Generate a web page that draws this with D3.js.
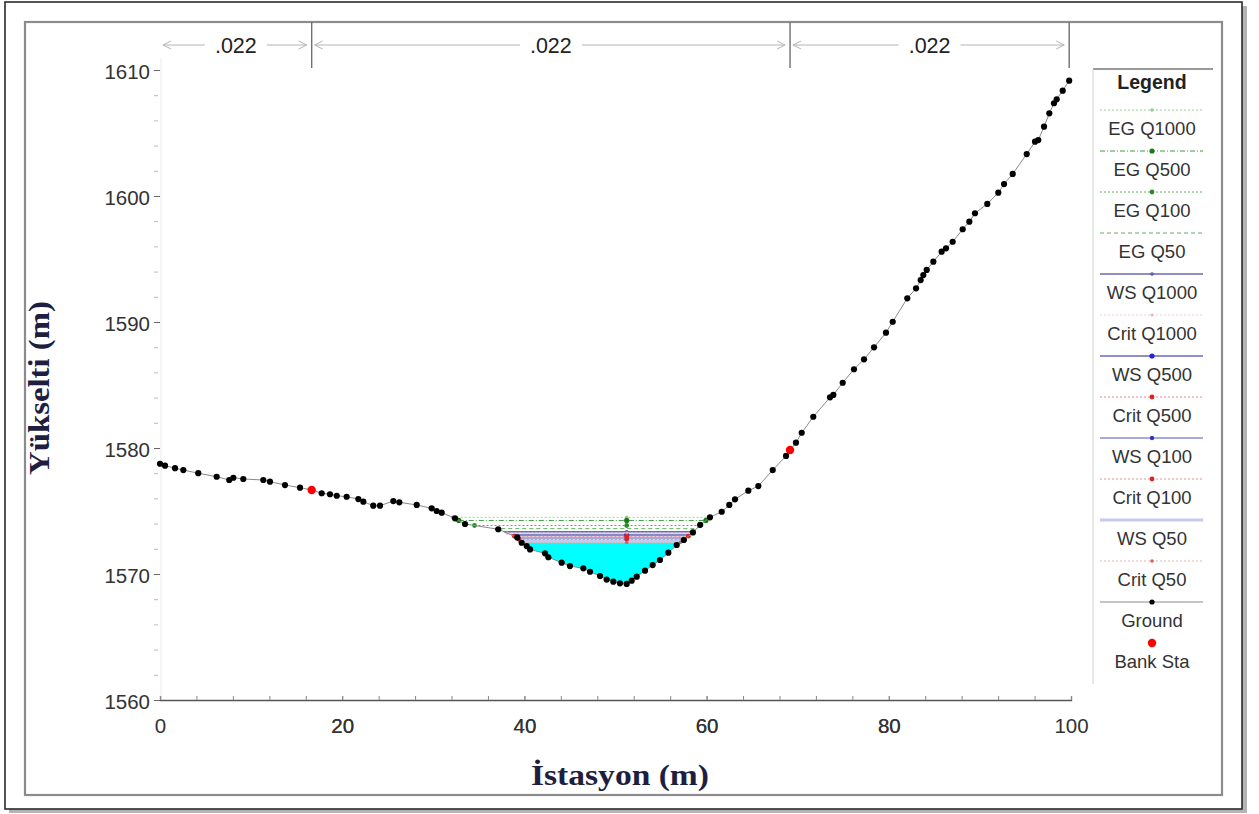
<!DOCTYPE html>
<html><head><meta charset="utf-8">
<script src="https://cdn.jsdelivr.net/npm/d3@7"></script>
<style>body{margin:0;background:#fff}svg{display:block}</style>
</head><body>
<svg id="chart" width="1259" height="814"></svg>
<script>
// Cross-section ground survey: station (m) and elevation (m)
const stations = [0.0, 0.55, 1.65, 2.56, 4.2, 6.22, 7.6, 8.05, 9.14, 11.34, 12.07, 13.72, 15.37, 16.65,
  17.75, 18.66, 19.4, 20.49, 21.77, 22.32, 23.41, 24.15, 25.61, 26.27, 28.18, 29.82, 30.37, 30.92,
  32.38, 33.48, 37.13, 39.22, 39.7, 40.25, 40.62, 42.26, 42.63, 44.09, 45.0, 46.47, 47.2, 48.3,
  49.03, 49.76, 50.49, 51.23, 51.78, 52.33, 53.24, 54.08, 54.88, 55.8, 56.72, 57.5, 58.5, 59.3,
  60.37, 61.66, 62.49, 63.12, 64.58, 65.68, 67.26, 68.72, 69.16, 69.81, 70.44, 71.71, 73.55, 73.91,
  74.94, 76.18, 77.28, 78.38, 79.69, 80.43, 82.03, 82.99, 83.5, 83.79, 84.16, 84.89, 85.8, 86.28,
  87.01, 88.11, 88.84, 89.46, 90.81, 92.02, 92.65, 93.6, 95.14, 96.05, 96.41, 97.04, 97.62, 98.13,
  98.43, 99.09, 99.8];
const elevations = [1578.75, 1578.6, 1578.4, 1578.25, 1578.0, 1577.72, 1577.46, 1577.64, 1577.54, 1577.46, 1577.33, 1577.06, 1576.85, 1576.67,
  1576.41, 1576.33, 1576.21, 1576.13, 1575.95, 1575.74, 1575.42, 1575.42, 1575.79, 1575.69, 1575.48, 1575.21, 1575.0, 1574.87,
  1574.42, 1573.97, 1573.55, 1572.9, 1572.48, 1572.22, 1571.95, 1571.64, 1571.33, 1570.9, 1570.63, 1570.45, 1570.18, 1569.84,
  1569.56, 1569.39, 1569.26, 1569.21, 1569.47, 1569.79, 1570.26, 1570.71, 1571.11, 1571.69, 1572.3, 1572.7, 1573.3, 1573.9,
  1574.5, 1574.94, 1575.48, 1575.93, 1576.61, 1576.98, 1578.25, 1579.37, 1579.84, 1580.42, 1581.21, 1582.48, 1584.02, 1584.21,
  1585.18, 1586.25, 1587.04, 1587.99, 1589.15, 1590.02, 1591.88, 1592.67, 1593.33, 1593.73, 1594.13, 1594.79, 1595.58, 1595.85,
  1596.37, 1597.36, 1597.96, 1598.63, 1599.37, 1600.26, 1600.95, 1601.75, 1603.33, 1604.31, 1604.44, 1605.5, 1606.56, 1607.36,
  1607.67, 1608.36, 1609.15];

// Bank stations (m)
const bankStations = [16.65, 69.16];

// Flow profiles and computed levels (m)
const profiles = ["Q1000", "Q500", "Q100", "Q50"];
const egLevels = [1574.5, 1574.25, 1573.85, 1573.6];
const wsLevels = [1573.35, 1573.1, 1572.85, 1572.6];
const critLevels = [1573.25, 1573.0, 1572.75, 1572.5];

// Manning's n zones
const nBreaks = [0, 16.65, 69.16, 99.8];
const nValues = [".022", ".022", ".022"];

// Axis ticks
const xTickLabels = [0, 20, 40, 60, 80, 100];
const yTickLabels = [1560, 1570, 1580, 1590, 1600, 1610];

// Legend order
const legendNames = ["EG Q1000", "EG Q500", "EG Q100", "EG Q50", "WS Q1000", "Crit Q1000",
  "WS Q500", "Crit Q500", "WS Q100", "Crit Q100", "WS Q50", "Crit Q50", "Ground", "Bank Sta"];

const styles = {
  "EG Q1000":  {stroke: "#98d098", dash: "2,2",     width: 1,   mark: "#8fcf8f", r: 1.8},
  "EG Q500":   {stroke: "#3c9c3c", dash: "5,2,1,2", width: 1,   mark: "#1a7a1a", r: 2.6},
  "EG Q100":   {stroke: "#5aae5a", dash: "2,2",     width: 1,   mark: "#2b8b2b", r: 2.4},
  "EG Q50":    {stroke: "#60b060", dash: "4,3",     width: 1,   mark: null,      r: 0},
  "WS Q1000":  {stroke: "#6a6aae", dash: null,      width: 1.6, mark: "#5a5aa6", r: 1.8},
  "Crit Q1000":{stroke: "#f2cccc", dash: "2,2",     width: 1,   mark: "#efb4b4", r: 1.6},
  "WS Q500":   {stroke: "#6868bc", dash: null,      width: 1.6, mark: "#2424d0", r: 2.6},
  "Crit Q500": {stroke: "#e48888", dash: "2,2",     width: 1,   mark: "#e42020", r: 2.4},
  "WS Q100":   {stroke: "#a4aadc", dash: null,      width: 2,   mark: "#3434c4", r: 2.2},
  "Crit Q100": {stroke: "#e49494", dash: "2,2",     width: 1,   mark: "#dd2222", r: 2.4},
  "WS Q50":    {stroke: "#c6cae8", dash: null,      width: 3,   mark: null,      r: 0},
  "Crit Q50":  {stroke: "#ebb4b4", dash: "2,2",     width: 1,   mark: "#d46464", r: 1.8},
  "Ground":    {stroke: "#8a8a8a", dash: null,      width: 1,   mark: "#000",    r: 3.1},
  "Bank Sta":  {stroke: null,      dash: null,      width: 0,   mark: "#ff0000", r: 4.2}
};

const svg = d3.select("#chart");
const x = d3.scaleLinear().domain([0, 100]).range([160, 1071]);
const y = d3.scaleLinear().domain([1560, 1610]).range([700, 70]);

// ---- page frames ----
svg.append("rect").attr("x", 1242).attr("y", 6).attr("width", 5).attr("height", 806).attr("fill", "#b4b4b4");
svg.append("rect").attr("x", 9).attr("y", 809).attr("width", 1238).attr("height", 4).attr("fill", "#b4b4b4");
svg.append("rect").attr("x", 5).attr("y", 2).attr("width", 1237).attr("height", 807)
  .attr("fill", "#fff").attr("stroke", "#2a2a2a").attr("stroke-width", 1.6);
svg.append("rect").attr("x", 25).attr("y", 22).attr("width", 1197).attr("height", 773)
  .attr("fill", "none").attr("stroke", "#8c8c8c").attr("stroke-width", 2.2);

// ---- ground geometry ----
const ground = stations.map((s, i) => ({s, z: elevations[i]}));
const iMin = d3.minIndex(ground, d => d.z);
const thalweg = ground[iMin].s;
const interpZ = s => {
  const k = d3.bisector(d => d.s).left(ground, s);
  if (k <= 0) return ground[0].z;
  if (k >= ground.length) return ground[ground.length - 1].z;
  const a = ground[k - 1], b = ground[k];
  return a.z + (s - a.s) * (b.z - a.z) / (b.s - a.s);
};
function waterExtent(level) {
  let i = iMin;
  while (i > 0 && ground[i - 1].z < level) i--;
  const a = ground[i - 1], b = ground[i];
  const sl = a.s + (level - a.z) * (b.s - a.s) / (b.z - a.z);
  let j = iMin;
  while (j < ground.length - 1 && ground[j + 1].z < level) j++;
  const c = ground[j], d = ground[j + 1];
  const sr = c.s + (level - c.z) * (d.s - c.s) / (d.z - c.z);
  return {sl, sr, i, j};
}
const line = d3.line().x(d => x(d[0])).y(d => y(d[1]));
function waterPolygon(level) {
  const e = waterExtent(level);
  const pts = [[e.sl, level]];
  for (let k = e.i; k <= e.j; k++) pts.push([ground[k].s, ground[k].z]);
  pts.push([e.sr, level]);
  return line(pts) + "Z";
}

// ---- axes ----
const yAxisG = svg.append("g").attr("transform", `translate(${x(0)},0)`);
yAxisG.append("line").attr("x1", 1).attr("x2", 1).attr("y1", 58).attr("y2", y(1560))
  .attr("stroke", "#ececec").attr("stroke-width", 1);
yAxisG.call(d3.axisLeft(y).tickValues(d3.range(1560, 1611, 2)).tickSize(5)
  .tickFormat(v => yTickLabels.includes(v) ? v : ""))
  .call(g => g.select(".domain").remove());
yAxisG.selectAll(".tick line").attr("stroke", v => yTickLabels.includes(v) ? "#666" : "#bbb")
  .attr("x1", -6).attr("x2", v => yTickLabels.includes(v) ? 0 : -2);
yAxisG.selectAll(".tick text").attr("x", -10).attr("dy", "0.4em")
  .attr("font-family", "Liberation Sans, Arial, sans-serif").attr("font-size", 20.5).attr("fill", "#333");

const xAxisG = svg.append("g").attr("transform", `translate(0,${y(1560)})`);
xAxisG.call(d3.axisBottom(x).tickValues(d3.range(0, 101, 4).concat([20, 40, 60, 80])).tickSize(-4)
  .tickFormat(v => xTickLabels.includes(v) ? v : ""));
xAxisG.select(".domain").attr("stroke", "#555").attr("stroke-width", 1.3);
xAxisG.selectAll(".tick line").attr("stroke", "#888");
xAxisG.selectAll(".tick text").attr("y", 18).attr("dy", "0.71em")
  .attr("font-family", "Liberation Sans, Arial, sans-serif").attr("font-size", 20.5).attr("fill", "#333");

// axis titles
svg.append("text").attr("x", 620).attr("y", 785).attr("text-anchor", "middle")
  .attr("font-family", "Liberation Serif, Times New Roman, serif").attr("font-weight", "bold")
  .attr("font-size", 29).attr("textLength", 178).attr("lengthAdjust", "spacingAndGlyphs")
  .attr("fill", "#1e1e40").text("İstasyon (m)");
svg.append("text").attr("transform", `translate(${49},${388}) rotate(-90)`).attr("text-anchor", "middle")
  .attr("font-family", "Liberation Serif, Times New Roman, serif").attr("font-weight", "bold")
  .attr("font-size", 29).attr("textLength", 174).attr("lengthAdjust", "spacingAndGlyphs")
  .attr("fill", "#1e1e40").text("Yükselti (m)");

// ---- Manning's n zones ----
const nG = svg.append("g");
nBreaks.slice(1).forEach(b => {
  nG.append("line").attr("x1", x(b)).attr("x2", x(b)).attr("y1", 22).attr("y2", 68)
    .attr("stroke", "#707070").attr("stroke-width", 1.4);
});
nValues.forEach((v, k) => {
  const x0 = x(nBreaks[k]) + 3, x1 = x(nBreaks[k + 1]) - 5, xm = (x(nBreaks[k]) + x(nBreaks[k + 1])) / 2;
  const yy = 45, half = 31;
  nG.append("line").attr("x1", x0).attr("x2", xm - half).attr("y1", yy).attr("y2", yy).attr("stroke", "#b4b4b4");
  nG.append("line").attr("x1", xm + half).attr("x2", x1).attr("y1", yy).attr("y2", yy).attr("stroke", "#b4b4b4");
  nG.append("path").attr("d", `M${x0 + 8},${yy - 4}L${x0},${yy}L${x0 + 8},${yy + 4}`)
    .attr("fill", "none").attr("stroke", "#b4b4b4");
  nG.append("path").attr("d", `M${x1 - 8},${yy - 4}L${x1},${yy}L${x1 - 8},${yy + 4}`)
    .attr("fill", "none").attr("stroke", "#b4b4b4");
  nG.append("text").attr("x", xm).attr("y", yy).attr("dy", "0.36em").attr("text-anchor", "middle")
    .attr("font-family", "Liberation Sans, Arial, sans-serif").attr("font-size", 21.5).attr("fill", "#222").text(v);
});

// ---- water ----
const plot = svg.append("g");
// band between the highest and lowest water surface
plot.append("path").attr("d", waterPolygon(wsLevels[0])).attr("fill", "#dcd9f0");
plot.append("path").attr("d", waterPolygon(wsLevels[3])).attr("fill", "#00ffff");

function levelLine(name, level, withEnds) {
  const st = styles[name];
  const e = waterExtent(level);
  plot.append("path").attr("d", line([[e.sl, level], [e.sr, level]]))
    .attr("stroke", st.stroke).attr("stroke-width", st.width)
    .attr("stroke-dasharray", st.dash).attr("fill", "none");
  if (st.mark) {
    const pts = withEnds ? [e.sl, thalweg, e.sr] : [thalweg];
    pts.forEach(s => plot.append("circle").attr("cx", x(s)).attr("cy", y(level))
      .attr("r", st.r).attr("fill", st.mark));
  }
}
profiles.forEach((p, k) => levelLine("EG " + p, egLevels[k], true));
profiles.forEach((p, k) => levelLine("WS " + p, wsLevels[k], false));
profiles.forEach((p, k) => levelLine("Crit " + p, critLevels[k], true));

// ---- ground ----
plot.append("path").attr("d", line(ground.map(d => [d.s, d.z])))
  .attr("fill", "none").attr("stroke", styles.Ground.stroke).attr("stroke-width", 1);
plot.selectAll("circle.g").data(ground).join("circle").attr("class", "g")
  .attr("cx", d => x(d.s)).attr("cy", d => y(d.z)).attr("r", styles.Ground.r).attr("fill", "#000");
plot.selectAll("circle.b").data(bankStations).join("circle").attr("class", "b")
  .attr("cx", d => x(d)).attr("cy", d => y(interpZ(d))).attr("r", styles["Bank Sta"].r).attr("fill", "#ff0000");

// ---- legend ----
const lg = svg.append("g");
const lgX0 = 1093, lgX1 = 1213, sx0 = 1100, sx1 = 1203, sxm = 1152;
lg.append("line").attr("x1", lgX0).attr("x2", lgX1).attr("y1", 69).attr("y2", 69).attr("stroke", "#777").attr("stroke-width", 1.5);
lg.append("line").attr("x1", lgX0).attr("x2", lgX0).attr("y1", 69).attr("y2", 684).attr("stroke", "#d0d0d0");
lg.append("text").attr("x", sxm).attr("y", 82).attr("dy", "0.36em").attr("text-anchor", "middle")
  .attr("font-family", "Liberation Sans, Arial, sans-serif").attr("font-weight", "bold").attr("font-size", 19.5)
  .attr("fill", "#222").text("Legend");
legendNames.forEach((name, k) => {
  const st = styles[name];
  const ly = 110 + k * 41;
  if (st.stroke) lg.append("line").attr("x1", sx0).attr("x2", sx1).attr("y1", ly).attr("y2", ly)
    .attr("stroke", st.stroke).attr("stroke-width", st.width).attr("stroke-dasharray", st.dash);
  if (st.mark) lg.append("circle").attr("cx", sxm).attr("cy", ly).attr("r", name === "Ground" ? 2.6 : st.r).attr("fill", st.mark);
  lg.append("text").attr("x", sxm).attr("y", ly + 18).attr("dy", "0.36em").attr("text-anchor", "middle")
    .attr("font-family", "Liberation Sans, Arial, sans-serif").attr("font-size", 18.5).attr("fill", "#333").text(name);
});
</script>
</body></html>
